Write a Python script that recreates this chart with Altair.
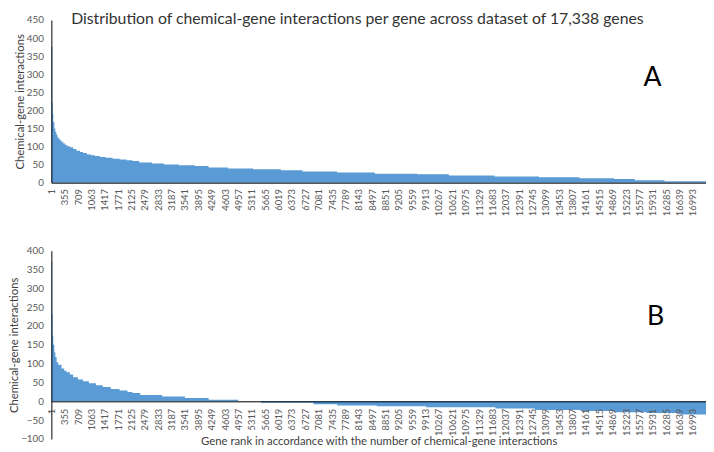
import altair as alt
import pandas as pd

N_GENES = 17338

# Panel A: ranked counts (rank where a plateau starts, value of plateau)
a_rank = [1, 27, 40, 52, 80, 106, 132, 158, 184, 224, 263, 315, 368, 420, 491,
          577, 664, 760, 839, 944, 1049, 1153, 1284, 1441, 1625, 1808, 1992,
          2149, 2332, 2672, 2987, 3380, 3799, 4165, 4689, 5344, 6077,
          6653, 7570, 8565, 9691, 10529, 11734, 12913, 13987, 14903, 15453, 16239]
a_value = [376, 221, 190, 168, 150, 140, 133, 127, 122, 117, 113, 108, 104, 101, 98,
           93, 88, 85, 82, 78, 76, 74, 71, 69, 66, 64, 62,
           60, 56, 53, 50, 48, 46, 42, 39, 37, 34,
           31, 28, 25, 23, 20, 17, 15, 12, 10, 7, 4]

# Panel B
b_rank = [1, 22, 35, 52, 80, 106, 140, 184, 271, 341, 402, 491, 577, 708, 839,
          996, 1180, 1363, 1573, 1808, 2018, 2149, 2355, 2934,
          3537, 4166, 4951, 5553, 6941, 7570, 8617, 9926, 11760, 12807, 14012,
          14903, 15767, 16631]
b_value = [371, 231, 175, 150, 130, 118, 104, 97, 87, 81, 77, 71, 64, 58, 53,
           48, 43, 38, 33, 29, 25, 22, 17, 13,
           9, 4, 1, -4, -8, -11, -13, -16, -19, -23, -26,
           -29, -31, -35]

tick_labels = [1, 355, 709, 1063, 1417, 1771, 2125, 2479, 2833, 3187, 3541, 3895,
               4249, 4603, 4957, 5311, 5665, 6019, 6373, 6727, 7081, 7435, 7789,
               8143, 8497, 8851, 9205, 9559, 9913, 10267, 10621, 10975, 11329,
               11683, 12037, 12391, 12745, 13099, 13453, 13807, 14161, 14515,
               14869, 15223, 15577, 15931, 16285, 16639, 16993]
a_yticks = [0, 50, 100, 150, 200, 250, 300, 350, 400, 450]
b_yticks = [-100, -50, 0, 50, 100, 150, 200, 250, 300, 350, 400]

title_text = "Distribution of chemical-gene interactions per gene across dataset of 17,338 genes"
y_title = "Chemical-gene interactions"
x_title = "Gene rank in accordance with the number of chemical-gene interactions"

BLUE = "#5B9BD5"
W = 664
HA = 165
HB = 191


def step_df(ranks, values):
    r = list(ranks) + [N_GENES + 1]
    v = list(values) + [values[-1]]
    return pd.DataFrame({"rank": r, "value": v})


df_a = step_df(a_rank, a_value)
df_b = step_df(b_rank, b_value)

x_scale = alt.Scale(domain=[1, N_GENES + 1], nice=False, zero=False)


def y_axis(vals):
    return alt.Axis(values=vals, tickCount=30, format="d", title=y_title, grid=False,
                    ticks=False, labelPadding=8, titlePadding=1,
                    domainColor="#000000", zindex=1, labelOverlap=False)


def x_axis(title, offset, label_pad):
    kw = dict(values=tick_labels, tickCount=100, format="d", labelAngle=-90,
              grid=False, ticks=False, labelPadding=label_pad,
              domainColor="#000000", zindex=1, labelOverlap=False,
              labelFlush=False, titlePadding=0, labelFontSize=9.5)
    kw["title"] = title
    if offset:
        kw["offset"] = offset
    return alt.Axis(**kw)


# Panel A
area_a = alt.Chart(df_a).mark_area(interpolate="step-after", color=BLUE).encode(
    x=alt.X("rank:Q", scale=x_scale, axis=x_axis(None, 0, 6)),
    y=alt.Y("value:Q", scale=alt.Scale(domain=[0, 450], nice=False),
            axis=y_axis(a_yticks)),
)
label_a = alt.Chart(pd.DataFrame({"t": ["A"], "rank": [15925], "value": [288]})).mark_text(
    fontSize=27, color="#000000", font="Lato"
).encode(x="rank:Q", y="value:Q", text="t:N")
chart_a = alt.layer(area_a, label_a).properties(width=W, height=HA)

# Panel B
zero_off = -HB * 100 / 500
area_b = alt.Chart(df_b).mark_area(interpolate="step-after", color=BLUE).encode(
    x=alt.X("rank:Q", scale=x_scale, axis=x_axis(x_title, zero_off, 7)),
    y=alt.Y("value:Q", scale=alt.Scale(domain=[-100, 400], nice=False),
            axis=y_axis(b_yticks)),
)
label_b = alt.Chart(pd.DataFrame({"t": ["B"], "rank": [16003], "value": [224]})).mark_text(
    fontSize=27, color="#000000", font="Lato"
).encode(x="rank:Q", y="value:Q", text="t:N")
chart_b = alt.layer(area_b, label_b).properties(width=W, height=HB)

chart = alt.vconcat(chart_a, chart_b, spacing=30).properties(
    title=alt.TitleParams(title_text, fontSize=16, font="Lato", fontWeight="normal",
                          color="#333333", offset=-12.5, anchor="middle"),
    padding={"left": 0, "top": 0, "right": 0, "bottom": 0},
).configure(font="Lato").configure_view(stroke=None).configure_axis(
    labelFont="Lato", labelFontSize=10, labelColor="#595959",
    titleFont="Lato", titleFontSize=11.5, titleColor="#404040", titleFontWeight="normal",
)

chart.save("out.html", embed_options={"renderer": "svg", "actions": False})
